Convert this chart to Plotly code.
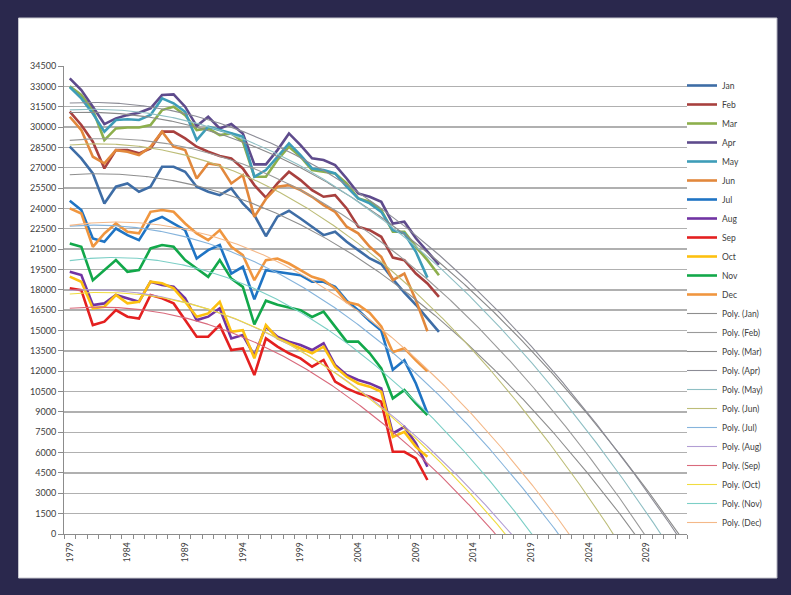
import numpy as np
import plotly.graph_objects as go

years = list(range(1979, 2012))
months = ["Jan", "Feb", "Mar", "Apr", "May", "Jun", "Jul", "Aug", "Sep", "Oct", "Nov", "Dec"]

jan = [28550, 27690, 26580, 24370, 25600, 25840, 25230, 25600, 27070, 27070, 26700, 25600, 25230,
       24980, 25470, 24370, 23510, 21950, 23390, 23830, 23260, 22650, 22030, 22280, 21540, 20930,
       20310, 19900, 18800, 17800, 16900, 15900, 14900]
feb = [31130, 30150, 28920, 26950, 28300, 28300, 28060, 28430, 29660, 29660, 29160, 28550, 28180,
       27860, 27690, 26950, 25720, 24800, 25850, 26700, 26090, 25350, 24860, 24980, 24000, 22650,
       22400, 21910, 20380, 20190, 19200, 18470, 17480]
mar = [33000, 32360, 31250, 29040, 29900, 29970, 29970, 30150, 31250, 31500, 30880, 29780, 29900,
       29410, 29530, 28920, 26340, 26340, 27570, 28550, 27810, 26830, 26700, 26580, 25840, 24740,
       24490, 23880, 22280, 22280, 21170, 20190, 19080]
apr = [33590, 32730, 31500, 30220, 30640, 30880, 31060, 31380, 32360, 32410, 31500, 30070, 30760,
       29900, 30220, 29530, 27250, 27250, 28300, 29530, 28670, 27690, 27570, 27200, 26210, 25110,
       24860, 24490, 22890, 23020, 21800, 20800, 19850]
may = [32950, 32110, 31000, 29660, 30520, 30570, 30520, 30890, 32110, 31750, 31130, 29040, 30020,
       29780, 29530, 29290, 26340, 26830, 27800, 28790, 27930, 26950, 26830, 26580, 25600, 24740,
       24370, 23750, 22400, 22160, 20800, 18900]
jun = [30760, 29780, 27810, 27320, 28300, 28180, 27930, 28550, 29660, 28550, 28300, 26210, 27320,
       27190, 25840, 26460, 23380, 24700, 25600, 25720, 25350, 24860, 24250, 23750, 22650, 22160,
       21170, 20430, 18710, 19200, 17240, 14950]
jul = [24570, 23880, 21790, 21540, 22520, 22030, 21660, 23020, 23380, 22890, 22400, 20310, 20930,
       21300, 19200, 19700, 17300, 19450, 19330, 19200, 19080, 18590, 18590, 18220, 17200, 16500,
       15700, 15000, 12100, 12800, 11100, 8900]
aug = [19340, 19090, 16880, 17000, 17620, 17370, 17120, 18600, 18350, 18230, 17370, 15770, 16020,
       16630, 14420, 14670, 13150, 15280, 14550, 14180, 13930, 13560, 14050, 12450, 11720, 11350,
       11100, 10730, 7410, 7900, 6670, 4960]
sep = [18110, 17980, 15400, 15650, 16510, 16020, 15890, 17620, 17370, 17000, 15770, 14540, 14540,
       15400, 13560, 13680, 11720, 14420, 13810, 13320, 12950, 12330, 12830, 11230, 10730, 10370,
       10120, 9750, 6060, 6060, 5570, 3980]
oct_ = [18970, 18600, 16630, 16750, 17620, 17000, 17120, 18600, 18480, 18110, 17120, 16020, 16260,
        17120, 14900, 15020, 12950, 15400, 14420, 14050, 13680, 13320, 13810, 12330, 11590, 11100,
        10860, 10490, 7160, 7530, 6420, 5700]
nov = [21420, 21170, 18710, 19450, 20190, 19330, 19450, 21050, 21300, 21170, 20190, 19570, 18960,
       20190, 18830, 18220, 15450, 17200, 16900, 16700, 16500, 16000, 16390, 15290, 14180, 14180,
       13320, 12210, 10000, 10610, 9630, 8770]
dec = [24000, 23630, 21170, 22160, 22890, 22280, 22160, 23750, 23880, 23750, 22890, 22160, 21660,
       22400, 21170, 20560, 18710, 20190, 20310, 19940, 19450, 18960, 18710, 18100, 17100, 16900,
       16300, 15300, 13400, 13700, 12800, 12000]

series = [jan, feb, mar, apr, may, jun, jul, aug, sep, oct_, nov, dec]

y_ticks = list(range(0, 34501, 1500))
x_tick_years = list(range(1979, 2030, 5))

line_colors = ["#3E6DA6", "#A8403E", "#8DAF4C", "#5E4B8C", "#3E9DB8", "#E2883C",
               "#1F74C4", "#7134A3", "#E42020", "#FDC010", "#12A84A", "#F0963F"]
trend_colors = ["#8E8E8E", "#9A9A9A", "#8A8A8A", "#8C8C96", "#8FBFC4", "#BDBD78",
                "#86B4DC", "#B29ED4", "#D96A7C", "#F0DC40", "#7CCFC6", "#F4B888"]

fig = go.Figure()

for name, vals, col in zip(months, series, line_colors):
    fig.add_trace(go.Scatter(
        x=years[:len(vals)], y=vals, mode="lines", name=name,
        line=dict(color=col, width=2.6)))

xt = np.linspace(1979, 2032.5, 700)
for name, vals, col in zip(months, series, trend_colors):
    xs = np.array(years[:len(vals)], dtype=float) - 1979
    coef = np.polyfit(xs, np.array(vals, dtype=float), 2)
    yt = np.polyval(coef, xt - 1979)
    fig.add_trace(go.Scatter(
        x=xt, y=yt, mode="lines", name=f"Poly. ({name})",
        line=dict(color=col, width=1.1)))

W, H = 791, 595
L, R, T, B = 63.5, 104, 66, 61
pw, ph = W - L - R, H - T - B

def px_x(p):
    return (p - L) / pw

def px_y(p):
    return (H - B - p) / ph

fig.add_shape(type="rect", xref="paper", yref="paper", layer="below",
              x0=px_x(18), x1=px_x(777), y0=px_y(578), y1=px_y(18),
              fillcolor="white", line=dict(color="#C8C8D0", width=1))

fig.update_layout(
    width=W, height=H,
    margin=dict(l=L, r=R, t=T, b=B, pad=0),
    paper_bgcolor="#2A284D",
    plot_bgcolor="white",
    font=dict(family="Lato, Open Sans, sans-serif", size=9, color="#404040"),
    showlegend=True,
    legend=dict(
        x=px_x(682), xanchor="left", y=px_y(71), yanchor="top",
        font=dict(size=8.5, color="#404040"),
        bgcolor="rgba(0,0,0,0)", borderwidth=0,
        itemwidth=30, tracegroupgap=0),
    hovermode=False,
)

fig.update_xaxes(
    range=[1978.5, 2032.5],
    tickmode="array", tickvals=x_tick_years, ticktext=[str(v) for v in x_tick_years],
    tickangle=-90, ticks="outside", ticklen=4, tickcolor="rgba(0,0,0,0)",
    tickfont=dict(size=8.5, color="#404040"),
    showgrid=False, zeroline=False,
    showline=True, linecolor="#8C8C8C", linewidth=1,
    minor=dict(ticks="outside", ticklen=4, tickcolor="#8C8C8C", tick0=1978.5, dtick=1, showgrid=False),
)
fig.update_yaxes(
    range=[0, 34500],
    tickmode="array", tickvals=y_ticks, ticktext=[str(v) for v in y_ticks],
    ticks="outside", ticklen=5, tickcolor="#8C8C8C",
    tickfont=dict(size=9, color="#404040"),
    showgrid=True, gridcolor="#B0B0B0", gridwidth=1.4,
    zeroline=False,
    showline=True, linecolor="#8C8C8C", linewidth=1,
)

fig.write_html("out.html", config={"displayModeBar": False, "staticPlot": True},
               post_script="document.body.style.margin='0px';document.body.style.overflow='hidden';")
